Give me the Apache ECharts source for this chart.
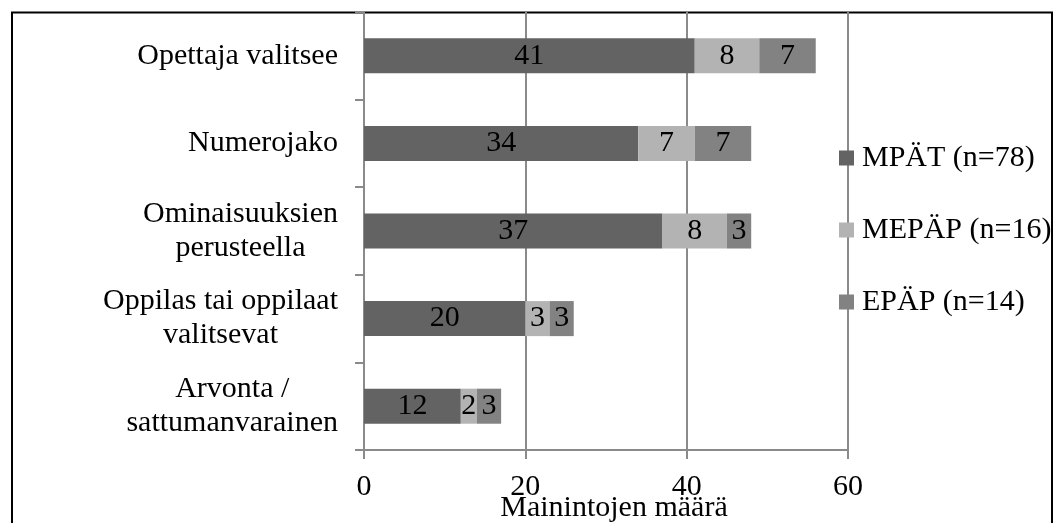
<!DOCTYPE html>
<html>
<head>
<meta charset="utf-8">
<style>
  html, body { margin: 0; padding: 0; background: #fff; }
  #chart { width: 1056px; height: 523px; }
</style>
<script src="https://cdn.jsdelivr.net/npm/echarts@6/dist/echarts.min.js"></script>
</head>
<body>
<div id="chart"></div>
<script>
// Ways of forming groups, and how often each was mentioned per group of respondents
const categories = [
  'Opettaja valitsee',
  'Numerojako',
  'Ominaisuuksien\nperusteella',
  'Oppilas tai oppilaat\nvalitsevat',
  'Arvonta /\nsattumanvarainen'
];
const seriesNames = ['MPÄT (n=78)', 'MEPÄP (n=16)', 'EPÄP (n=14)'];
const mpat = [41, 34, 37, 20, 12];
const mepap = [8, 7, 8, 3, 2];
const epap = [7, 7, 3, 3, 3];
const xTicks = [0, 20, 40, 60];

const FONT = '"Liberation Serif", "Times New Roman", serif';
const FS = 30;
const GRID_COLOR = '#8a8a8a';
const colors = ['#636363', '#b3b3b3', '#828282'];
const values = [mpat, mepap, epap];

const chart = echarts.init(document.getElementById('chart'), null, { renderer: 'canvas' });

chart.setOption({
  animation: false,
  backgroundColor: '#ffffff',
  textStyle: { fontFamily: FONT },
  grid: { left: 364, right: 208, top: 12, bottom: 73, containLabel: false, outerBoundsMode: 'none' },
  legend: {
    orient: 'vertical',
    left: 834,
    top: 138,
    itemWidth: 15,
    itemHeight: 15,
    itemGap: 42,
    icon: 'rect',
    selectedMode: false,
    textStyle: { fontFamily: FONT, fontSize: FS, color: '#000', padding: [0, 0, 0, 3] },
    data: seriesNames
  },
  xAxis: {
    type: 'value',
    min: xTicks[0],
    max: xTicks[xTicks.length - 1],
    interval: xTicks[1] - xTicks[0],
    name: 'Mainintojen määrä',
    nameLocation: 'middle',
    nameGap: 43,
    nameMoveOverlap: false,
    nameTextStyle: { fontFamily: FONT, fontSize: FS, color: '#000', padding: [0, 0, 0, 16] },
    axisLine: { show: true, lineStyle: { color: GRID_COLOR, width: 2 } },
    axisTick: { show: true, length: 9, lineStyle: { color: GRID_COLOR, width: 2 } },
    axisLabel: { fontFamily: FONT, fontSize: FS, color: '#000', margin: 22 },
    splitLine: { show: true, lineStyle: { color: GRID_COLOR, width: 2 } }
  },
  yAxis: {
    type: 'category',
    inverse: true,
    data: categories,
    axisLine: { show: true, lineStyle: { color: GRID_COLOR, width: 2 } },
    axisTick: { show: true, length: 9, alignWithLabel: false, lineStyle: { color: GRID_COLOR, width: 2 } },
    axisLabel: {
      margin: 26,
      align: 'right',
      formatter: v => v.split('\n').map(s => '{c|' + s + '}').join('\n'),
      rich: {
        c: { align: 'center', fontFamily: FONT, fontSize: FS, color: '#000', lineHeight: 34 }
      }
    }
  },
  series: seriesNames.map((name, i) => ({
    name,
    type: 'bar',
    stack: 'total',
    barWidth: '40%',
    data: values[i],
    itemStyle: { color: colors[i] },
    label: {
      show: true,
      position: 'inside',
      fontFamily: FONT,
      fontSize: FS,
      color: '#000'
    }
  })),
  graphic: [{
    type: 'rect',
    silent: true,
    shape: { x: 12, y: 12.5, width: 1040, height: 600 },
    style: { fill: 'none', stroke: '#000', lineWidth: 2 }
  }]
});
</script>
</body>
</html>
